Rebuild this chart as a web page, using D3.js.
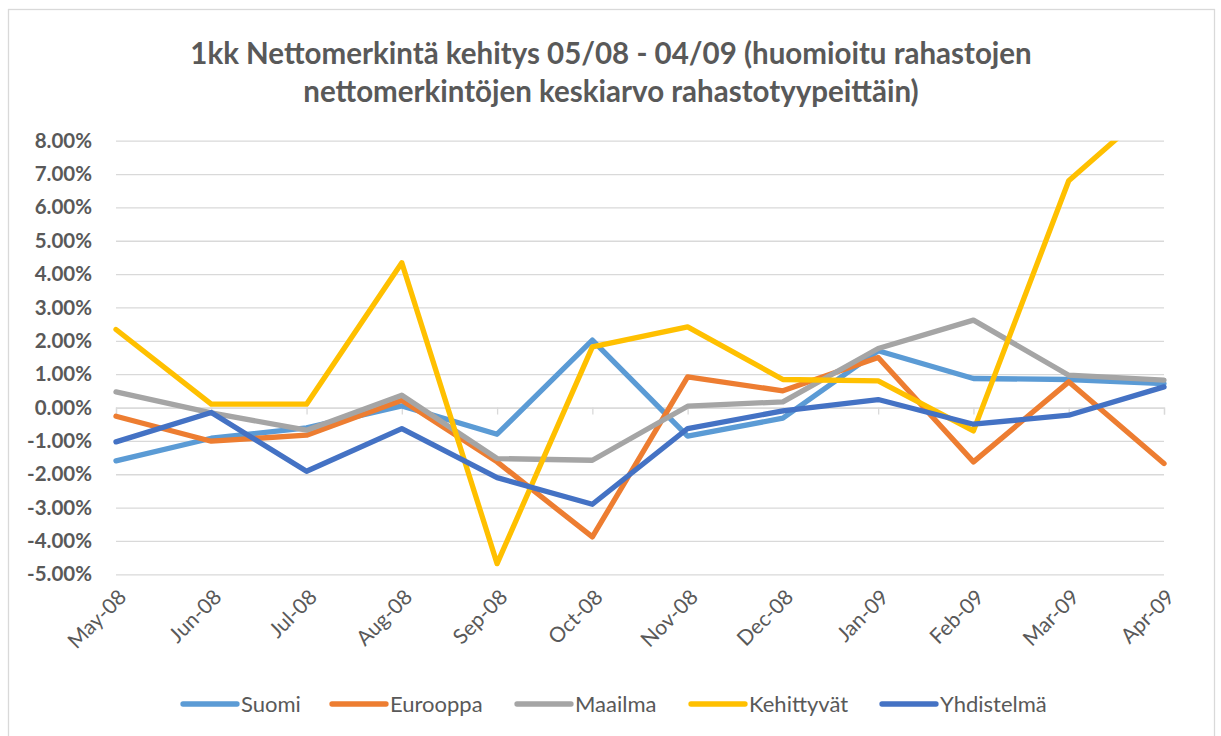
<!DOCTYPE html>
<html>
<head>
<meta charset="utf-8">
<script src="https://cdn.jsdelivr.net/npm/d3@7"></script>
<style>
  body { margin: 0; background: #fff; }
  svg { display: block; font-family: Lato, "Open Sans", sans-serif; }
</style>
</head>
<body>
<script>
// chart values (percent)
const months = ["May-08","Jun-08","Jul-08","Aug-08","Sep-08","Oct-08","Nov-08","Dec-08","Jan-09","Feb-09","Mar-09","Apr-09"];
const suomi      = [-1.60,-0.92,-0.61, 0.05,-0.80, 2.02,-0.86,-0.32, 1.70, 0.87, 0.84, 0.72];
const eurooppa   = [-0.26,-1.01,-0.83, 0.22,-1.63,-3.88, 0.92, 0.50, 1.50,-1.63, 0.77,-1.68];
const maailma    = [ 0.47,-0.16,-0.68, 0.37,-1.53,-1.58, 0.04, 0.17, 1.77, 2.62, 0.97, 0.82];
const kehittyvat = [ 2.34, 0.10, 0.10, 4.34,-4.68, 1.82, 2.42, 0.84, 0.80,-0.70, 6.80, 9.30];
const yhdistelma = [-1.03,-0.15,-1.91,-0.63,-2.10,-2.90,-0.63,-0.10, 0.24,-0.50,-0.23, 0.62];
const yTicks = [-5,-4,-3,-2,-1,0,1,2,3,4,5,6,7,8];

const series = [
  {name:"Suomi", values:suomi, color:"#5B9BD5"},
  {name:"Eurooppa", values:eurooppa, color:"#ED7D31"},
  {name:"Maailma", values:maailma, color:"#A5A5A5"},
  {name:"Kehittyvät", values:kehittyvat, color:"#FFC000"},
  {name:"Yhdistelmä", values:yhdistelma, color:"#4472C4"}
];

const W = 1221, H = 736;
const plotL = 116, plotR = 1164, plotT = 140.7, plotB = 574.3;
const textColor = "#595959", gridColor = "#D9D9D9";

const svg = d3.select("body").append("svg").attr("width", W).attr("height", H);

// chart frame
svg.append("rect").attr("x", 8.5).attr("y", 9.5).attr("width", 1206).attr("height", 740)
  .attr("fill", "#fff").attr("stroke", gridColor).attr("stroke-width", 1.3);

// title
const title = svg.append("text").attr("text-anchor", "middle").attr("fill", textColor)
  .attr("font-weight", "bold").attr("font-size", 29.5);
title.append("tspan").attr("x", 611).attr("y", 64).text("1kk Nettomerkintä kehitys 05/08 - 04/09 (huomioitu rahastojen");
title.append("tspan").attr("x", 611).attr("y", 102).text("nettomerkintöjen keskiarvo rahastotyypeittäin)");

const x = d3.scalePoint().domain(months).range([plotL, plotR]);
const y = d3.scaleLinear().domain([-5, 8]).range([plotB, plotT]);

// gridlines
svg.append("g")
  .attr("transform", `translate(${plotL},0)`)
  .call(d3.axisLeft(y).tickValues(yTicks).tickSize(-(plotR - plotL)).tickFormat(""))
  .call(g => g.select(".domain").remove())
  .call(g => g.selectAll("line").attr("stroke", gridColor).attr("stroke-width", 1.3));

// y labels
svg.append("g")
  .attr("transform", `translate(${plotL},0)`)
  .call(d3.axisLeft(y).tickValues(yTicks).tickSize(0).tickPadding(24).tickFormat(d => d.toFixed(2) + "%"))
  .call(g => g.select(".domain").remove())
  .call(g => g.selectAll("text").attr("fill", textColor).attr("font-size", 20.5)
    .attr("font-weight", "bold").attr("font-family", "Lato, sans-serif"));

// category axis at zero
svg.append("g")
  .attr("transform", `translate(0,${y(0)})`)
  .call(d3.axisBottom(x).tickSize(7).tickFormat(""))
  .call(g => g.selectAll("line,path").attr("stroke", gridColor).attr("stroke-width", 1.3));

// category labels at bottom
svg.append("g")
  .attr("transform", `translate(0,${plotB})`)
  .call(d3.axisBottom(x).tickSize(0))
  .call(g => g.select(".domain").remove())
  .call(g => g.selectAll("text")
    .attr("fill", textColor).attr("font-size", 21).attr("font-family", "Lato, sans-serif")
    .attr("text-anchor", "end").attr("y", 0).attr("dy", "0.35em")
    .attr("transform", "translate(6,19) rotate(-45)"));

// lines
svg.append("clipPath").attr("id", "plot")
  .append("rect").attr("x", 0).attr("y", plotT).attr("width", W).attr("height", plotB - plotT + 10);

const line = d3.line().x((d, i) => x(months[i])).y(d => y(d));
svg.append("g").attr("clip-path", "url(#plot)")
  .selectAll("path").data(series).enter().append("path")
  .attr("d", d => line(d.values))
  .attr("fill", "none").attr("stroke", d => d.color).attr("stroke-width", 5.3)
  .attr("stroke-linejoin", "round").attr("stroke-linecap", "round");

// legend
const legX = [183, 332, 517, 691, 882];
const leg = svg.append("g").selectAll("g").data(series).enter().append("g")
  .attr("transform", (d, i) => `translate(${legX[i]},704)`);
leg.append("line").attr("x1", 0).attr("x2", 54).attr("stroke", d => d.color)
  .attr("stroke-width", 5.3).attr("stroke-linecap", "round");
leg.append("text").attr("x", 58).attr("dy", "0.35em").attr("font-size", 22)
  .attr("fill", textColor).text(d => d.name);
</script>
</body>
</html>
